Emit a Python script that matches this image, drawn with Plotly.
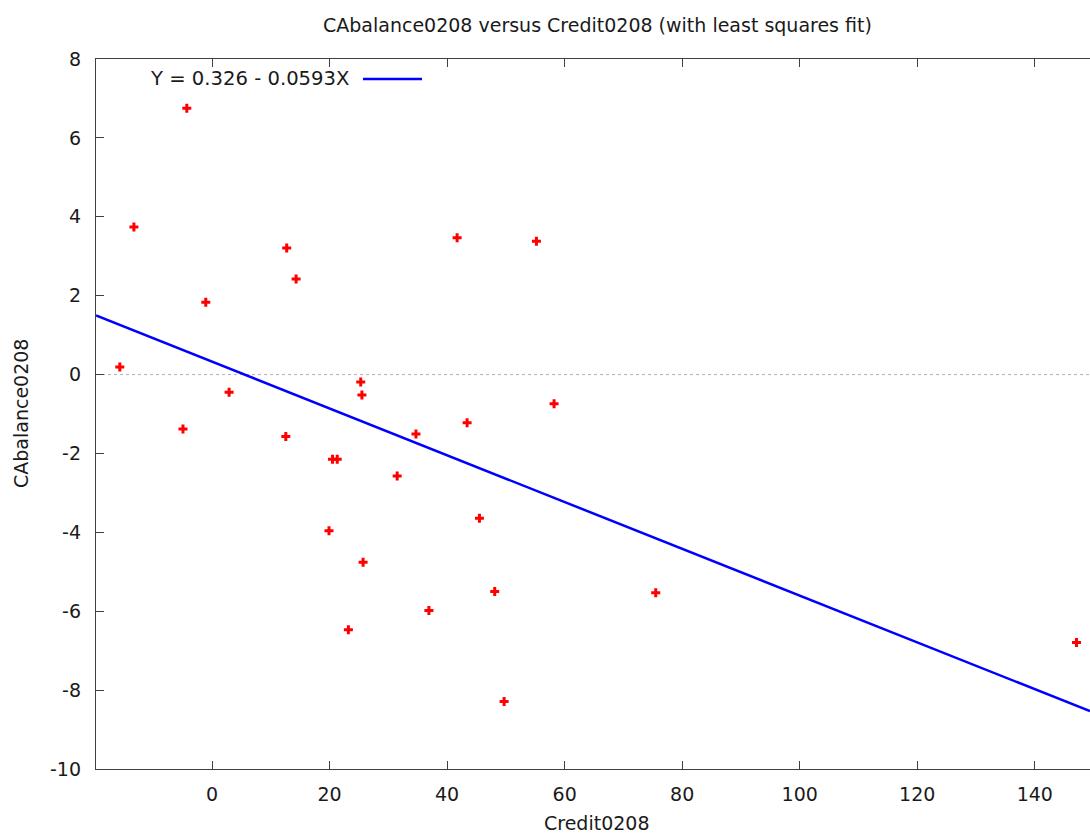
import plotly.graph_objects as go

# ---- data ----
credit0208 = [-4.3, -13.3, -15.7, -1.07, -4.95, 2.9, 12.7, 14.3, 12.55, 20.5,
              21.3, 25.3, 25.5, 41.7, 55.2, 58.2, 43.4, 34.7, 31.5, 19.9,
              25.7, 45.5, 48.1, 36.9, 23.2, 49.7, 75.5, 147.1]
cabalance0208 = [6.75, 3.74, 0.19, 1.83, -1.38, -0.45, 3.21, 2.42, -1.57, -2.15,
                 -2.15, -0.19, -0.52, 3.47, 3.38, -0.74, -1.22, -1.51, -2.57, -3.96,
                 -4.76, -3.64, -5.50, -5.98, -6.47, -8.29, -5.53, -6.79]
fit_intercept = 0.326
fit_slope = -0.0593
x_range = [-19.75, 149.4]
y_range = [-10, 8]
x_ticks = [0, 20, 40, 60, 80, 100, 120, 140]
x_tick_labels = ["0", "20", "40", "60", "80", "100", "120", "140"]
y_ticks = [-10, -8, -6, -4, -2, 0, 2, 4, 6, 8]
y_tick_labels = ["-10", "-8", "-6", "-4", "-2", "0", "2", "4", "6", "8"]
legend_label = "Y = 0.326 - 0.0593X"
title_text = "CAbalance0208 versus Credit0208 (with least squares fit)"

FONT = "DejaVu Sans"
TXT = "#1a1a1a"
AX = "#404040"
fs = 19

W, H = 1090, 834
ML, MR, MT, MB = 96, 0, 59, 65
PW = W - ML - MR
PH = H - MT - MB

def px(x):
    return (x - ML) / PW

def py(y):
    return (H - MB - y) / PH

fig = go.Figure()

fit_x = x_range
fit_y = [fit_intercept + fit_slope * v for v in fit_x]

fig.add_trace(go.Scatter(
    x=fit_x, y=fit_y, mode="lines",
    line=dict(color="#0000ff", width=2.5),
    showlegend=False, hoverinfo="skip"))

fig.add_trace(go.Scatter(
    x=credit0208, y=cabalance0208, mode="markers",
    marker=dict(symbol="cross", size=7.5, color="#ff0000", line=dict(width=0)),
    showlegend=False))

# dotted zero line
fig.add_shape(type="line", xref="paper", yref="y", x0=0, x1=1, y0=0, y1=0,
              line=dict(color="#b0b0b0", width=1, dash="dot"), layer="below")

# legend: text then sample line to the right (gnuplot style)
fig.add_annotation(text=legend_label, xref="paper", yref="paper",
                   x=px(148), y=py(79), xanchor="left", yanchor="middle",
                   showarrow=False, font=dict(family=FONT, size=19.6, color=TXT))
fig.add_shape(type="line", xref="paper", yref="paper",
              x0=px(363), x1=px(422), y0=py(79), y1=py(79),
              line=dict(color="#0000ff", width=2.5))

# title and axis titles
fig.add_annotation(text=title_text, xref="paper", yref="paper",
                   x=px(597), y=py(25), xanchor="center", yanchor="middle",
                   showarrow=False, font=dict(family=FONT, size=fs, color=TXT))
fig.add_annotation(text="Credit0208", xref="paper", yref="paper",
                   x=px(597), y=py(823), xanchor="center", yanchor="middle",
                   showarrow=False, font=dict(family=FONT, size=fs, color=TXT))
fig.add_annotation(text="CAbalance0208", xref="paper", yref="paper",
                   x=px(21), y=0.5, xanchor="center", yanchor="middle",
                   textangle=-90,
                   showarrow=False, font=dict(family=FONT, size=fs, color=TXT))

fig.update_layout(
    width=W, height=H,
    margin=dict(l=ML, r=MR, t=MT, b=MB, pad=0),
    paper_bgcolor="white", plot_bgcolor="white",
    font=dict(family=FONT, size=fs, color=TXT),
    showlegend=False,
)
fig.update_xaxes(range=x_range, tickvals=x_ticks, ticktext=x_tick_labels,
                 ticks="inside", ticklen=8,
                 tickcolor=AX, tickwidth=1.3, showline=True, linecolor=AX,
                 linewidth=1.3, mirror="ticks", showgrid=False, zeroline=False,
                 ticklabelstandoff=8,
                 tickfont=dict(family=FONT, size=fs, color=TXT))
fig.update_yaxes(range=y_range, tickvals=y_ticks, ticktext=y_tick_labels,
                 ticks="inside", ticklen=8,
                 tickcolor=AX, tickwidth=1.3, showline=True, linecolor=AX,
                 linewidth=1.3, mirror=False, showgrid=False, zeroline=False,
                 ticklabelstandoff=10,
                 tickfont=dict(family=FONT, size=fs, color=TXT))

fig.write_html("out.html")
